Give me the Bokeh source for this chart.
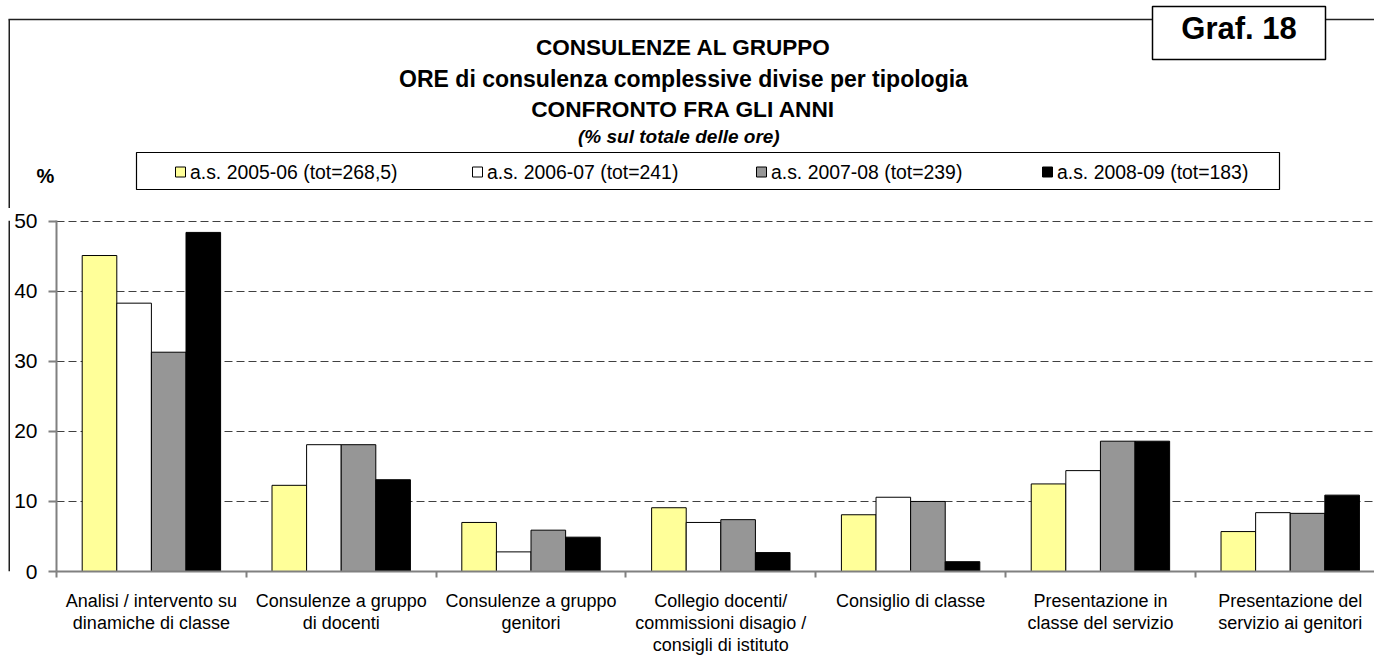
from bokeh.plotting import figure
from bokeh.models import Range1d, FixedTicker, ColumnDataSource
from bokeh.layouts import column, row
from bokeh.core.properties import value
from bokeh.embed import file_html
from bokeh.resources import INLINE

# ---------------- data ----------------
categories = [
    "Analisi / intervento su\ndinamiche di classe",
    "Consulenze a gruppo\ndi docenti",
    "Consulenze a gruppo\ngenitori",
    "Collegio docenti/\ncommissioni disagio /\nconsigli di istituto",
    "Consiglio di classe",
    "Presentazione in\nclasse del servizio",
    "Presentazione del\nservizio ai genitori",
]
series_names = [
    "a.s. 2005-06 (tot=268,5)",
    "a.s. 2006-07 (tot=241)",
    "a.s. 2007-08 (tot=239)",
    "a.s. 2008-09 (tot=183)",
]
v_2005_06 = [45.1, 12.3, 7.0, 9.1, 8.1, 12.5, 5.7]
v_2006_07 = [38.3, 18.1, 2.8, 7.0, 10.6, 14.4, 8.4]
v_2007_08 = [31.3, 18.1, 5.9, 7.4, 10.0, 18.6, 8.3]
v_2008_09 = [48.4, 13.1, 4.9, 2.7, 1.4, 18.6, 10.9]
series_values = [v_2005_06, v_2006_07, v_2007_08, v_2008_09]
y_ticks = [0, 10, 20, 30, 40, 50]
title_lines = [
    "CONSULENZE AL GRUPPO",
    "ORE di consulenza complessive divise per tipologia",
    "CONFRONTO FRA GLI ANNI",
]
subtitle = "(% sul totale  delle ore)"
chart_tag = "Graf. 18"
unit_label = "%"

colors = ["#FFFF99", "#FFFFFF", "#969696", "#000000"]
FONT = "Liberation Sans"
FRAME_COLOR = "#202020"


def blank_fig(w, h, y_down=True):
    f = figure(width=w, height=h, x_range=Range1d(0, w),
               y_range=Range1d(h, 0) if y_down else Range1d(0, h),
               output_backend="svg", toolbar_location=None,
               x_axis_location=None, y_axis_location=None,
               min_border=0, min_border_left=0, min_border_right=0,
               min_border_top=0, min_border_bottom=0)
    f.outline_line_color = None
    f.xgrid.visible = False
    f.ygrid.visible = False
    f.background_fill_color = "white"
    f.border_fill_color = "white"
    return f


# ---------------- header figure (titles, legend, frame) ----------------
TW, TH = 1374, 208
top = blank_fig(TW, TH)

# outer frame: top edge and left edge
top.segment(x0=[8, 8.75], y0=[19, 19], x1=[TW, 8.75], y1=[19, TH],
            line_color=FRAME_COLOR, line_width=[1.5, 1.5])
# Graf. box
top.quad(left=[1152], right=[1325], top=[6], bottom=[59],
         fill_color="white", line_color="black", line_width=1.5)
top.text(x=[1238.5], y=[28], text=[chart_tag], text_font=value(FONT),
         text_font_style="bold", text_font_size="31px",
         text_align="center", text_baseline="middle")

# titles
top.text(x=[683] * 3, y=[47, 78, 108], text=title_lines, text_font=value(FONT),
         text_font_style="bold", text_font_size=["22.5px", "23px", "22.7px"],
         text_align="center", text_baseline="middle")
top.text(x=[681], y=[136], text=[subtitle], text_font=value(FONT),
         text_font_style="bold italic", text_font_size="19px",
         text_align="center", text_baseline="middle")
top.text(x=[45], y=[175], text=[unit_label], text_font=value(FONT),
         text_font_style="bold", text_font_size="20px",
         text_align="center", text_baseline="middle")

# legend
top.quad(left=[136], right=[1279], top=[152], bottom=[189],
         fill_color="white", line_color="black", line_width=1.2)
sq_left = [175, 472, 756, 1042]
top.quad(left=sq_left, right=[s + 10 for s in sq_left],
         top=[166.5] * 4, bottom=[176.5] * 4,
         fill_color=colors, line_color="black", line_width=1)
top.text(x=[s + 14.5 for s in sq_left], y=[171.5] * 4, text=series_names,
         text_font=value(FONT), text_font_size="19.4px",
         text_align="left", text_baseline="middle")

# ---------------- left frame strip for the chart part ----------------
BH = 657 - TH
strip = blank_fig(10, BH)
strip.segment(x0=[8.75], y0=[0], x1=[8.75], y1=[BH], line_color=FRAME_COLOR, line_width=1.5)

# ---------------- chart figure ----------------
n_cat = len(categories)
x_end = 6.944  # visible part of the category axis (chart is cropped on the right)
p = figure(width=1364, height=BH, x_range=Range1d(0, x_end), y_range=Range1d(0, 50.1),
           output_backend="svg", toolbar_location=None,
           min_border_left=46, min_border_right=0, min_border_top=12, min_border_bottom=86)
p.outline_line_color = None
p.background_fill_color = "white"
p.border_fill_color = "white"

bar_w = 0.1823
for j, (name, vals, col) in enumerate(zip(series_names, series_values, colors)):
    xs = [i + 0.5 + (j - 1.5) * bar_w for i in range(n_cat)]
    src = ColumnDataSource(dict(x=xs, top=vals))
    p.vbar(x="x", top="top", width=bar_w, bottom=0, source=src,
           fill_color=col, line_color="black", line_width=1)

# grid
p.xgrid.visible = False
p.ygrid.ticker = FixedTicker(ticks=y_ticks[1:])
p.ygrid.grid_line_color = "#404040"
p.ygrid.grid_line_dash = "8 4"
p.ygrid.grid_line_width = 1

# y axis
ya = p.yaxis[0]
ya.ticker = FixedTicker(ticks=y_ticks)
ya.axis_line_color = "#808080"
ya.axis_line_width = 2
ya.major_tick_line_color = "#808080"
ya.major_tick_line_width = 2
ya.major_tick_out = 8
ya.major_tick_in = 0
ya.minor_tick_line_color = None
ya.major_label_standoff = 11
ya.major_label_text_font = FONT
ya.major_label_text_font_size = "21px"
ya.major_label_text_color = "black"

# x axis
xa = p.xaxis[0]
centers = [i + 0.5 for i in range(n_cat)]
xa.ticker = FixedTicker(ticks=centers, minor_ticks=list(range(n_cat)))
xa.major_label_overrides = {c: lab for c, lab in zip(centers, categories)}
xa.axis_line_color = "#808080"
xa.axis_line_width = 2
xa.major_tick_out = 0
xa.major_tick_in = 0
xa.major_tick_line_color = None
xa.minor_tick_out = 6
xa.minor_tick_in = 0
xa.minor_tick_line_color = "#808080"
xa.minor_tick_line_width = 2
xa.major_label_standoff = 13
xa.major_label_text_font = FONT
xa.major_label_text_font_size = "18px"
xa.major_label_text_line_height = 1.1
xa.major_label_text_color = "black"
xa.major_label_text_align = "center"

layout = column(top, row(strip, p, spacing=0), spacing=0)
open("out.html", "w").write(file_html(layout, INLINE))
